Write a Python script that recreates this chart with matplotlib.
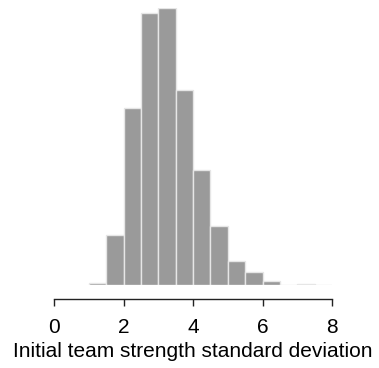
import matplotlib
matplotlib.use("Agg")
import matplotlib.pyplot as plt
import numpy as np

# Histogram of initial team strength standard deviation (bin width 0.5)
bin_edges = [1.0, 1.5, 2.0, 2.5, 3.0, 3.5, 4.0, 4.5, 5.0, 5.5, 6.0, 6.5, 7.0, 7.5, 8.0]
counts = [2.0, 50.0, 177.0, 272.3, 277.3, 195.0, 115.0, 58.7, 24.3, 12.7, 4.3, 0.3, 1.0, 0.3]
tick_values = [0, 2, 4, 6, 8]
xlabel = "Initial team strength standard deviation"

plt.rcParams["font.family"] = ["Liberation Sans", "DejaVu Sans"]

W, H = 379, 368
fig = plt.figure(figsize=(W / 100, H / 100), dpi=100)
left_px, right_px = 54, 332
base_px, top_px = 285, 7.7
ax = fig.add_axes([left_px / W, (H - base_px) / H,
                   (right_px - left_px) / W, (base_px - top_px) / H])

edges = np.array(bin_edges)
ax.bar(edges[:-1], counts, width=np.diff(edges), align="edge",
       color="#9a9a9a", edgecolor="#e6e6e6", linewidth=1.0)

ax.set_xlim(0, 8)
ax.set_ylim(0, max(counts))

for s in ["top", "right", "left"]:
    ax.spines[s].set_visible(False)
ax.spines["bottom"].set_position(("outward", 10))
ax.spines["bottom"].set_bounds(0, 8)
ax.spines["bottom"].set_linewidth(1.0)
ax.spines["bottom"].set_color("#222222")
ax.set_yticks([])
ax.set_xticks(tick_values)
ax.set_xticklabels([str(v) for v in tick_values], va="baseline")
ax.tick_params(axis="x", direction="out", length=5, width=1.0, color="#222222",
               labelsize=15, pad=19.9)
ax.patch.set_visible(False)

# axis title centred under the axis, baseline near the bottom edge
fig.text((left_px + right_px) / 2 / W, (H - 357.3) / H, xlabel,
         ha="center", va="baseline", fontsize=15)

fig.savefig("out.png", dpi=100)
